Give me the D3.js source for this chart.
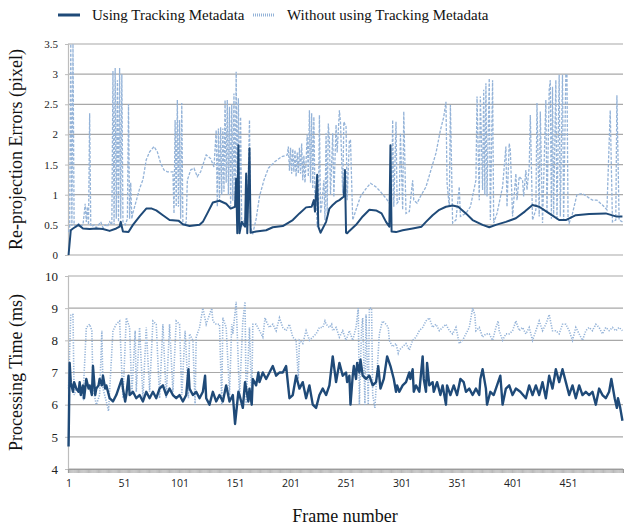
<!DOCTYPE html>
<html><head><meta charset="utf-8">
<script src="https://cdn.jsdelivr.net/npm/d3@7"></script>
<style>body{margin:0;background:#fff}</style>
</head><body><svg id="c" width="624" height="529"></svg>
<script>
const frameCount = 500;
const errTicks = [0,0.5,1,1.5,2,2.5,3,3.5];
const timeTicks = [4,5,6,7,8,9,10];
const frameTicks = [1,51,101,151,201,251,301,351,401,451];
const seriesNames = ["Using Tracking Metadata","Without using Tracking Metadata"];

const errUsing = [[1,0],[3,0.41],[5,0.44],[10,0.5],[14,0.44],[20,0.43],[26,0.44],[32,0.43],[38,0.4],[44,0.44],[47,0.47],[48,0.55],[50,0.39],[55,0.38],[59,0.5],[65,0.64],[71,0.77],[76,0.77],[80,0.74],[86,0.66],[92,0.58],[100,0.57],[104,0.51],[110,0.48],[119,0.5],[122,0.55],[126,0.69],[131,0.87],[137,0.9],[143,0.85],[147,0.77],[151,0.8],[152,1.27],[153,0.36],[154,1.82],[155,0.36],[157,0.55],[160,0.47],[161,1.35],[162,0.36],[164,1.77],[165,0.37],[170,0.39],[179,0.41],[185,0.46],[194,0.48],[203,0.58],[209,0.69],[215,0.79],[220,0.8],[222,0.91],[223,0.72],[225,1.33],[226,0.47],[228,0.37],[233,0.55],[236,0.77],[239,0.83],[242,0.88],[245,0.91],[249,0.97],[250,1.41],[251,0.37],[252,0.36],[254,0.4],[260,0.5],[266,0.64],[272,0.75],[278,0.74],[283,0.69],[287,0.55],[290,0.47],[291,1.82],[292,0.39],[296,0.38],[302,0.41],[311,0.44],[319,0.47],[323,0.55],[329,0.66],[335,0.75],[341,0.8],[347,0.82],[352,0.8],[359,0.69],[365,0.58],[374,0.5],[380,0.46],[386,0.5],[395,0.55],[404,0.61],[412,0.72],[419,0.83],[425,0.8],[434,0.69],[443,0.58],[449,0.58],[458,0.66],[470,0.68],[485,0.69],[494,0.64],[500,0.64]];

const errWithout = [[1,0.38],[2,0.45],[3,3.5],[4,0.48],[5,3.5],[6,0.5],[8,0.47],[10,0.52],[12,0.48],[14,0.5],[16,0.85],[17,0.55],[18,0.8],[19,0.5],[20,2.35],[21,0.5],[22,0.47],[24,0.5],[26,0.45],[28,0.5],[30,0.55],[32,0.45],[34,0.5],[36,0.47],[38,0.55],[40,0.5],[41,3.05],[42,0.5],[43,3.1],[44,0.6],[45,2.9],[46,0.55],[47,3.1],[48,0.6],[49,3.0],[50,0.55],[52,0.5],[54,0.6],[55,2.5],[56,0.6],[57,1.2],[58,0.6],[59,0.7],[62,0.9],[65,1.1],[68,1.25],[71,1.58],[74,1.71],[78,1.8],[81,1.71],[84,1.52],[87,1.41],[90,1.38],[95,1.38],[96,0.69],[97,2.24],[98,0.8],[99,2.57],[100,0.8],[101,2.24],[102,0.6],[103,2.52],[104,0.5],[106,0.5],[107,0.55],[108,1.24],[111,1.41],[114,1.44],[117,1.3],[120,1.38],[125,1.66],[129,1.6],[132,1.46],[134,2.07],[135,0.8],[136,2.1],[137,0.9],[138,2.12],[139,1.0],[140,2.1],[141,1.05],[142,2.57],[143,1.2],[144,2.57],[145,1.0],[146,2.46],[147,0.8],[148,2.5],[149,0.9],[150,2.68],[151,0.85],[152,3.04],[153,0.9],[154,2.6],[155,0.91],[156,2.29],[157,0.47],[158,0.55],[160,0.6],[162,0.5],[164,2.24],[165,0.47],[166,0.4],[167,0.36],[170,0.6],[173,0.97],[177,1.24],[181,1.44],[187,1.55],[193,1.63],[198,1.66],[199,1.8],[200,1.4],[201,1.78],[202,1.35],[203,1.76],[204,1.38],[205,1.74],[206,1.3],[207,1.7],[208,1.35],[209,1.78],[210,1.35],[211,1.85],[212,1.24],[213,1.65],[214,1.2],[215,1.55],[216,2.0],[217,1.3],[218,2.4],[219,1.2],[220,2.35],[221,1.1],[222,2.29],[223,0.97],[224,0.91],[225,0.47],[226,0.55],[227,2.32],[228,0.69],[229,0.8],[231,1.24],[232,0.58],[233,2.02],[234,0.69],[235,2.18],[236,1.91],[237,1.0],[239,2.02],[240,0.96],[242,2.16],[243,1.7],[245,2.4],[246,2.2],[248,1.02],[249,2.21],[251,2.13],[252,0.91],[254,1.91],[255,1.9],[257,0.58],[260,0.75],[264,0.97],[269,1.1],[273,1.19],[278,1.13],[282,1.05],[287,0.94],[290,0.86],[292,0.9],[293,2.24],[294,0.8],[296,2.21],[297,0.86],[299,0.91],[300,2.02],[302,0.75],[303,2.38],[305,0.69],[308,0.72],[311,1.24],[312,0.91],[315,0.86],[318,0.97],[323,1.13],[327,1.38],[332,1.69],[336,2.07],[339,2.29],[341,2.54],[342,1.19],[344,0.8],[345,2.49],[347,0.53],[350,0.58],[353,1.13],[354,0.64],[359,0.69],[363,0.8],[368,1.24],[369,2.63],[371,0.91],[372,2.63],[374,1.08],[375,2.74],[376,1.0],[377,2.85],[378,0.97],[380,2.93],[381,0.58],[383,2.9],[384,0.53],[387,0.69],[392,1.13],[395,1.8],[396,0.8],[398,1.85],[399,1.74],[401,0.64],[404,1.35],[405,0.91],[407,1.3],[410,1.24],[411,0.97],[413,1.41],[414,1.08],[416,1.46],[417,2.32],[419,0.58],[422,0.75],[423,2.52],[425,0.64],[426,2.38],[428,0.53],[431,2.57],[432,0.69],[434,2.74],[435,2.9],[436,0.6],[437,2.79],[438,0.64],[440,2.9],[441,0.58],[443,2.99],[444,0.64],[446,2.99],[447,0.58],[449,2.99],[450,3.0],[451,0.6],[452,0.53],[455,0.69],[459,1.0],[464,1.02],[468,0.97],[473,0.91],[477,0.91],[482,0.83],[486,0.75],[489,2.4],[491,0.55],[494,0.58],[495,2.65],[497,0.58],[500,0.55]];

const timeUsing = [[1,4.7],[2,7.3],[3,6.7],[5,6.4],[6,6.7],[8,6.5],[10,6.4],[11,6.7],[12,6.3],[14,6.6],[15,6.2],[17,6.8],[19,6.5],[20,6.6],[22,6.3],[23,7.2],[25,6.3],[26,6.5],[28,6.6],[29,6.8],[31,6.6],[32,6.9],[34,6.5],[35,6.6],[38,6.2],[41,6.1],[44,6.3],[47,6.6],[49,6.8],[50,6.5],[52,6.1],[53,6.3],[55,6.9],[56,6.3],[59,6.4],[62,6.2],[65,6.3],[68,6.1],[71,6.4],[74,6.2],[77,6.4],[80,6.2],[83,6.5],[86,6.6],[89,6.3],[92,6.5],[95,6.3],[98,6.2],[101,6.3],[104,6.1],[107,6.3],[109,7.1],[110,6.5],[113,6.3],[116,6.4],[119,6.2],[122,6.4],[124,6.9],[125,6.2],[128,6.0],[131,6.4],[134,6.1],[137,6.3],[140,6.1],[143,6.6],[146,6.1],[149,6.3],[151,5.4],[154,6.4],[155,6.3],[158,5.9],[160,6.7],[163,6.1],[164,6.5],[166,6.0],[167,6.8],[170,6.6],[172,7.0],[173,6.7],[176,7.0],[179,6.8],[182,7.0],[185,7.2],[188,6.9],[191,7.0],[194,7.0],[197,7.2],[200,6.2],[203,6.3],[206,6.9],[209,6.5],[212,6.7],[215,6.2],[218,6.6],[221,6.0],[224,5.9],[227,6.3],[230,6.5],[233,6.3],[236,6.6],[239,7.5],[242,6.7],[245,7.3],[248,6.9],[251,7.0],[252,6.7],[254,6.9],[255,6.0],[257,6.9],[258,7.2],[260,6.8],[261,7.3],[263,7.0],[264,7.4],[266,6.9],[269,6.8],[272,6.9],[275,6.6],[278,6.7],[280,7.2],[282,6.5],[285,6.8],[288,7.5],[291,7.2],[294,6.8],[296,6.4],[297,6.6],[299,6.4],[302,6.6],[305,6.7],[308,7.0],[309,6.8],[311,7.1],[312,6.4],[314,6.6],[317,6.4],[320,7.5],[321,6.8],[323,6.4],[324,7.3],[326,6.6],[329,6.7],[330,6.4],[333,6.7],[336,6.3],[338,6.6],[341,6.0],[342,6.6],[345,6.3],[348,6.6],[351,6.3],[354,6.8],[357,6.7],[359,6.4],[362,6.5],[365,6.3],[368,6.5],[371,6.3],[372,6.8],[374,7.1],[377,6.5],[378,6.0],[381,6.4],[384,6.3],[387,6.6],[390,6.9],[392,6.0],[395,6.5],[398,6.6],[401,6.3],[404,6.5],[408,6.4],[413,6.2],[416,6.6],[419,6.3],[422,6.6],[425,6.3],[428,6.7],[431,6.2],[434,6.9],[437,6.5],[440,7.1],[443,6.7],[446,7.1],[449,6.7],[452,6.3],[455,6.6],[458,6.2],[461,6.6],[464,6.3],[467,6.4],[470,6.3],[473,6.4],[476,6.0],[479,6.5],[482,6.3],[485,6.2],[488,6.4],[490,6.8],[493,6.2],[495,5.9],[496,6.2],[498,5.9],[500,5.5]];

const timeWithout = [[1,6.5],[3,8.8],[5,8.8],[6,6.3],[8,6.5],[11,6.4],[14,6.2],[17,8.4],[20,8.5],[22,8.3],[23,6.5],[26,6.0],[29,6.3],[31,8.3],[32,6.5],[35,6.1],[37,5.8],[41,8.3],[44,8.5],[47,8.6],[50,6.2],[53,8.7],[56,8.4],[58,6.3],[61,8.3],[62,6.4],[65,8.4],[68,6.2],[71,8.4],[74,6.4],[77,8.6],[80,8.5],[83,6.2],[86,8.5],[89,6.2],[92,8.5],[95,6.4],[98,8.6],[101,8.5],[103,6.3],[106,8.3],[109,6.2],[110,8.2],[113,8.0],[115,6.0],[116,8.1],[119,8.4],[122,9.0],[125,8.5],[130,9.0],[131,8.6],[134,8.5],[137,8.5],[139,6.0],[140,8.7],[143,8.4],[146,6.3],[148,8.5],[149,8.2],[152,9.2],[155,6.2],[158,8.6],[160,9.2],[161,6.0],[164,8.4],[166,6.1],[167,8.5],[170,8.5],[173,8.3],[176,8.1],[178,8.7],[179,8.6],[182,8.4],[185,8.5],[188,8.3],[191,8.7],[194,8.4],[197,8.3],[200,8.5],[203,8.1],[206,8.0],[208,6.8],[209,8.0],[212,7.9],[215,8.3],[218,8.0],[221,8.1],[224,8.2],[227,8.4],[230,8.4],[232,8.6],[233,8.5],[236,8.4],[238,8.5],[239,8.3],[242,8.4],[245,8.1],[248,8.3],[251,8.0],[254,8.3],[257,8.0],[260,8.4],[262,9.0],[263,6.0],[265,8.4],[266,8.7],[268,6.0],[269,8.8],[271,6.0],[272,9.0],[274,9.0],[275,6.3],[277,5.9],[278,6.5],[281,8.2],[283,8.5],[284,8.6],[287,8.5],[289,8.4],[290,8.0],[293,7.8],[296,7.9],[298,7.6],[299,7.7],[302,7.8],[305,7.9],[308,7.7],[311,8.0],[314,8.1],[317,8.3],[320,8.4],[323,8.6],[326,8.7],[329,8.4],[332,8.5],[335,8.3],[338,8.4],[341,8.5],[344,8.3],[347,8.2],[350,8.4],[353,7.9],[356,8.0],[359,8.2],[362,8.4],[365,9.0],[367,8.8],[368,8.3],[371,8.4],[374,8.1],[377,8.2],[380,8.2],[383,8.0],[386,8.4],[388,8.6],[389,8.3],[392,8.0],[395,8.2],[398,8.2],[401,8.3],[404,8.6],[407,8.3],[410,8.4],[413,8.2],[416,8.4],[419,8.0],[422,8.3],[425,8.6],[428,8.3],[431,8.5],[434,8.8],[437,8.3],[440,8.3],[443,8.2],[446,8.5],[449,8.5],[452,8.3],[455,8.0],[458,8.4],[461,8.2],[464,8.0],[467,8.3],[470,8.4],[473,8.3],[476,8.5],[479,8.4],[482,8.2],[485,8.4],[488,8.3],[491,8.4],[494,8.3],[497,8.4],[500,8.3]];

const DARK = "#1f4a78", LIGHT = "#94b3d8", GRID = "#a8a8a8";
const SERIF = "'Liberation Serif','Times New Roman',serif";
const SANS = "'Open Sans','DejaVu Sans',sans-serif";

const svg = d3.select("#c");
const L = 68, R = 623;
const x = d3.scaleLinear().domain([0.5, frameCount + 0.5]).range([L, R]);
const yE = d3.scaleLinear().domain([0, 3.5]).range([255, 44]);
const yT = d3.scaleLinear().domain([4, 10]).range([469, 276]);

function panel(y, ticks, fontSize) {
  const g = svg.append("g");
  g.selectAll("line.grid").data(ticks).join("line")
    .attr("x1", L).attr("x2", R).attr("y1", d => y(d)).attr("y2", d => y(d))
    .attr("stroke", GRID).attr("stroke-width", 1.2);
  const ax = g.append("g").attr("transform", `translate(${L},0)`)
    .call(d3.axisLeft(y).tickValues(ticks).tickSize(3).tickPadding(7).tickFormat(d => String(d)));
  ax.select(".domain").attr("stroke", "#bdbdbd").attr("stroke-width", 1.2);
  ax.selectAll(".tick line").attr("stroke", "#bdbdbd");
  ax.selectAll("text").attr("font-family", SERIF).attr("font-size", fontSize).attr("fill", "#222");
}
panel(yE, errTicks, 11);
panel(yT, timeTicks, 13);

// dense category ticks at bottom
const bx = svg.append("g").attr("transform", `translate(0,${yT(4)})`)
  .call(d3.axisBottom(x).tickValues(d3.range(0.5, frameCount + 1, 1)).tickSize(4).tickFormat(""));
bx.select(".domain").attr("stroke", "#a0a0a0").attr("stroke-width", 1.2);
bx.selectAll(".tick line").attr("stroke", "#9a9a9a").attr("stroke-width", 0.7);

const lx = svg.append("g").attr("transform", `translate(0,${yT(4) + 5})`)
  .call(d3.axisBottom(x).tickValues(frameTicks).tickSize(0).tickPadding(6).tickFormat(d => String(d)));
lx.select(".domain").remove();
lx.selectAll("text").attr("font-family", SANS).attr("font-size", 10.5).attr("fill", "#222");

const lineE = d3.line().x(d => x(d[0])).y(d => yE(Math.min(3.5, d[1])));
const lineT = d3.line().x(d => x(d[0])).y(d => yT(d[1]));

svg.append("path").datum(errWithout).attr("d", lineE).attr("fill", "none")
  .attr("stroke", LIGHT).attr("stroke-width", 1.3).attr("stroke-dasharray", "3,1.5");
svg.append("path").datum(errUsing).attr("d", lineE).attr("fill", "none")
  .attr("stroke", DARK).attr("stroke-width", 2).attr("stroke-linejoin", "round");

svg.append("path").datum(timeWithout).attr("d", lineT).attr("fill", "none")
  .attr("stroke", LIGHT).attr("stroke-width", 1.6).attr("stroke-dasharray", "1.2,1.4");
svg.append("path").datum(timeUsing).attr("d", lineT).attr("fill", "none")
  .attr("stroke", DARK).attr("stroke-width", 2.4).attr("stroke-linejoin", "round");

// legend
const leg = svg.append("g").attr("font-family", SERIF).attr("font-size", 15).attr("fill", "#111");
leg.append("line").attr("x1", 58).attr("x2", 80).attr("y1", 15).attr("y2", 15)
  .attr("stroke", DARK).attr("stroke-width", 3);
leg.append("text").attr("x", 92).attr("y", 20).text(seriesNames[0]);
leg.append("line").attr("x1", 253).attr("x2", 275).attr("y1", 15).attr("y2", 15)
  .attr("stroke", LIGHT).attr("stroke-width", 3).attr("stroke-dasharray", "1,1");
leg.append("text").attr("x", 287).attr("y", 20).text(seriesNames[1]);

// axis titles
svg.append("text").attr("transform", `translate(22,${(44 + 255) / 2}) rotate(-90)`)
  .attr("text-anchor", "middle").attr("font-family", SERIF).attr("font-size", 18).attr("fill", "#111")
  .text("Re-projection Errors (pixel)");
svg.append("text").attr("transform", `translate(22,${(276 + 469) / 2}) rotate(-90)`)
  .attr("text-anchor", "middle").attr("font-family", SERIF).attr("font-size", 18).attr("fill", "#111")
  .text("Processing Time (ms)");
svg.append("text").attr("x", 345).attr("y", 522).attr("text-anchor", "middle")
  .attr("font-family", SERIF).attr("font-size", 18).attr("fill", "#111").text("Frame number");
</script></body></html>
